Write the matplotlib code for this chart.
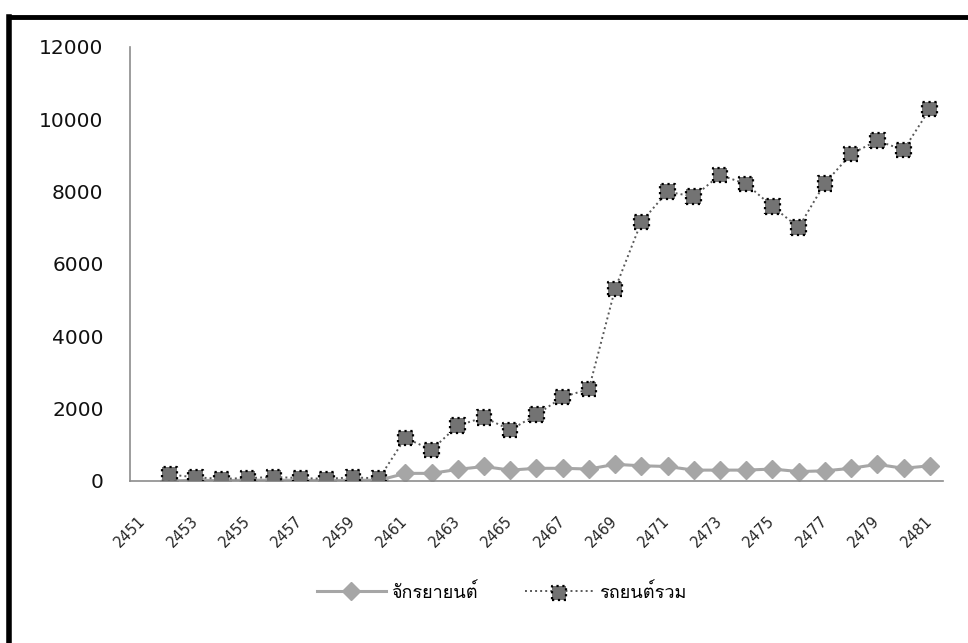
import numpy as np
import matplotlib
matplotlib.use("Agg")
import matplotlib.pyplot as plt
from matplotlib import font_manager
from matplotlib.ft2font import FT2Font
from matplotlib.lines import Line2D
from matplotlib.legend_handler import HandlerTuple

years = list(range(2451, 2482))

# motorcycles (จักรยายนต์), no record for 2451
motorcycles = [np.nan, 0, 20, 10, 20, 20, 20, 10, 20, 20,
               210, 210, 320, 400, 300, 350, 350, 330, 460, 420,
               400, 300, 300, 300, 330, 260, 280, 350, 460, 350, 420]

# all cars (รถยนต์รวม)
cars = [np.nan, 180, 100, 60, 80, 110, 80, 60, 100, 70,
        1190, 860, 1530, 1760, 1410, 1830, 2320, 2540, 5310, 7160,
        8000, 7860, 8460, 8210, 7590, 7010, 8230, 9040, 9410, 9150, 10280]


def thai_family():
    for f in font_manager.fontManager.ttflist:
        try:
            if ord("จ") in FT2Font(f.fname).get_charmap():
                return f.name
        except Exception:
            pass
    return "DejaVu Sans"


thai = thai_family()

fig = plt.figure(figsize=(9.68, 6.43), dpi=100)
ax = fig.add_axes([0.1343, 0.252, 0.8397, 0.675])

x = np.arange(len(years))

mc_line, = ax.plot(x, motorcycles, color="#a6a6a6", lw=2.2, marker="D",
                   ms=9, mfc="#a6a6a6", mec="#a6a6a6", zorder=2)

car_line, = ax.plot(x, cars, color="#595959", lw=1.4, ls=(0, (1, 1.6)),
                    zorder=3)
car_pts = ax.scatter(x, cars, marker="s", s=110, facecolor="#737373",
                     edgecolor="black", linewidths=1.6, linestyles=":",
                     zorder=4)

ax.set_xlim(-0.5, len(years) - 0.5)
ax.set_ylim(0, 12000)
ax.set_yticks(np.arange(0, 12001, 2000))
ax.set_yticklabels([str(v) for v in range(0, 12001, 2000)],
                   fontfamily="DejaVu Sans", fontsize=14.5, color="#111111")
ax.set_xticks(x[::2])
ax.set_xticklabels([str(y) for y in years[::2]], rotation=45, ha="right",
                   va="center", rotation_mode="anchor",
                   fontfamily="DejaVu Sans", fontsize=10.5, color="#262626")
ax.tick_params(axis="both", length=0)
ax.tick_params(axis="y", pad=19)
ax.tick_params(axis="x", pad=27)

for side in ("top", "right"):
    ax.spines[side].set_visible(False)
for side in ("left", "bottom"):
    ax.spines[side].set_color("#8c8c8c")
    ax.spines[side].set_linewidth(1.2)

fig.legend([mc_line, (car_line, car_pts)], ["จักรยายนต์", "รถยนต์รวม"],
           handler_map={tuple: HandlerTuple(ndivide=1)},
           loc="center", bbox_to_anchor=(0.518, 0.079), ncol=2,
           frameon=False, handlelength=3.8, handletextpad=0.3,
           columnspacing=2.6,
           prop={"family": [thai, "DejaVu Sans"], "size": 13})

# frame lines along the top and left edge
fig.add_artist(Line2D([0.0093, 1.0], [0.9736, 0.9736], color="black",
                      lw=3.5, transform=fig.transFigure))
fig.add_artist(Line2D([0.0093, 0.0093], [0.0, 0.9736], color="black",
                      lw=4, transform=fig.transFigure))

fig.savefig("out.png", dpi=100)
